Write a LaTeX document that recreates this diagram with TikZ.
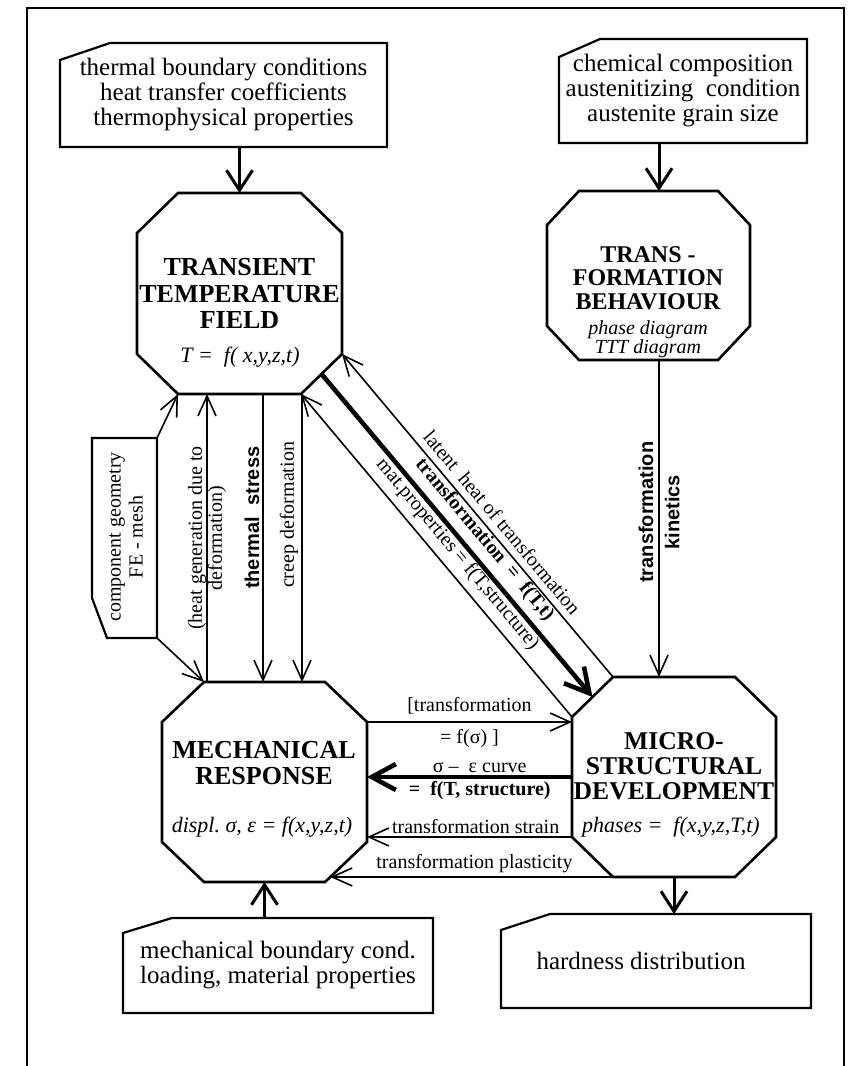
\documentclass[tikz,border=0pt]{standalone}
\usepackage{fontspec}
\setmainfont{Liberation Serif}
\setsansfont{Liberation Sans}
\usetikzlibrary{arrows.meta,calc}

% octagon round an empty node: node, corner cut in x, corner cut in y
\newcommand{\octframe}[3]{%
	\path ([xshift=#2]#1.north west) coordinate (#1v1)
		([xshift=-#2]#1.north east) coordinate (#1v2)
		([yshift=-#3]#1.north east) coordinate (#1v3)
		([yshift=#3]#1.south east) coordinate (#1v4)
		([xshift=-#2]#1.south east) coordinate (#1v5)
		([xshift=#2]#1.south west) coordinate (#1v6)
		([yshift=#3]#1.south west) coordinate (#1v7)
		([yshift=-#3]#1.north west) coordinate (#1v8);%
	\draw[octline] (#1v1) -- (#1v2) -- (#1v3) -- (#1v4) -- (#1v5) -- (#1v6) -- (#1v7) -- (#1v8) -- cycle;%
}
% data card, upper left corner cut off
\newcommand{\cardframe}[3]{%
	\draw[boxline] ([yshift=-#3]#1.north west) -- ([xshift=#2]#1.north west) -- (#1.north east) -- (#1.south east) -- (#1.south west) -- cycle;%
}

\begin{document}
\begin{tikzpicture}[x=0.5pt,y=-0.5pt,
	block/.style={inner sep=0pt,outer sep=0pt},
	boxtxt/.style={align=center,font=\fontsize{12.5}{12.5}\selectfont},
	headline/.style={align=center,font=\bfseries\fontsize{13}{13.25}\selectfont},
	eqn/.style={font=\itshape\fontsize{11}{11}\selectfont},
	lbl/.style={font=\fontsize{10}{10}\selectfont},
	lblbf/.style={font=\bfseries\fontsize{10}{10}\selectfont},
	lblsf/.style={font=\sffamily\bfseries\fontsize{10}{10}\selectfont},
	frame/.style={line width=0.9pt},
	octline/.style={line width=1.3pt},
	boxline/.style={line width=1.1pt},
	linkto/.style={line width=0.8pt,-{Straight Barb[length=10pt,width=9pt]}},
	linkfrom/.style={line width=0.8pt,{Straight Barb[length=10pt,width=9pt]}-},
	input/.style={line width=1.5pt,-{Straight Barb[length=10pt,width=13pt]}},
	heavy/.style={line width=2.3pt,-{Straight Barb[length=12pt,width=13pt]}}]

	\useasboundingbox (0,0) rectangle (851,1066);
	\draw[frame] (27,1066) |- (844,8) -- (844,1066);

	% data cards
	\node[block,boxtxt,minimum width=163.5pt,minimum height=52pt] (thermbc) at (223.5,95) {thermal boundary conditions\\heat transfer coefficients\\thermophysical properties};
	\node[block,boxtxt,minimum width=124pt,minimum height=52pt] (chembc) at (683,91) {chemical composition\\austenitizing\ \ condition\\austenite grain size};
	\node[block,boxtxt,minimum width=155pt,minimum height=47.5pt] (mechbc) at (278,965.5) {mechanical boundary cond.\\loading, material properties};
	\node[block,boxtxt,minimum width=155pt,minimum height=47pt] (hard) at (656,961) {hardness distribution\hspace*{15pt}};
	\node[block,minimum width=32.5pt,minimum height=100pt] (geom) at (124.5,538) {};
	\node[lbl,rotate=90,align=center,font=\fontsize{10}{11}\selectfont] (geomtxt) at (126,537) {component geometry\\FE - mesh};

	% octagons
	\node[block,minimum width=102.5pt,minimum height=100.5pt] (ttf) at (239.5,293.5) {};
	\node[block,minimum width=101.5pt,minimum height=84.5pt] (tb) at (648.5,275.5) {};
	\node[block,minimum width=102.5pt,minimum height=100pt] (mr) at (264.5,782) {};
	\node[block,minimum width=102pt,minimum height=100pt] (msd) at (674,777) {};

	\node[headline] (ttftitle) at (ttf) {TRANSIENT\\TEMPERATURE\\FIELD};
	\node[eqn] (ttfeq) at (240,357) {T =\ \ f( x,y,z,t)};
	\node[headline,font=\bfseries\fontsize{12}{11.75}\selectfont] (tbtitle) at (648,278) {TRANS -\\FORMATION\\BEHAVIOUR};
	\node[eqn,align=center,font=\itshape\fontsize{10}{9.5}\selectfont] (tbeq) at (648,339) {phase diagram\\TTT diagram};
	\node[headline] (mrtitle) at (264,763) {MECHANICAL\\RESPONSE};
	\node[eqn] (mreq) at (262,827) {displ.\ σ, ε = f(x,y,z,t)};
	\node[headline,font=\bfseries\fontsize{12.8}{12.5}\selectfont] (msdtitle) at (674,766) {MICRO-\\STRUCTURAL\\DEVELOPMENT};
	\node[eqn] (msdeq) at (671,827) {phases =\ \ f(x,y,z,T,t)};

	\octframe{ttf}{20.5pt}{20pt}
	\octframe{tb}{16pt}{17pt}
	\octframe{mr}{21pt}{20pt}
	\octframe{msd}{20.5pt}{20pt}
	\cardframe{thermbc}{25pt}{8.5pt}
	\cardframe{chembc}{20.5pt}{9pt}
	\cardframe{mechbc}{24.5pt}{7.5pt}
	\cardframe{hard}{24.5pt}{8pt}
	\draw[boxline] (geom.north west) -- (geom.north east) -- (geom.south east) -- ([xshift=7.5pt]geom.south west) -- ([yshift=20pt]geom.south west) -- cycle;

	% connectors
	\coordinate (hx) at (207,0);
	\coordinate (sx) at (263,0);
	\coordinate (cx) at (302,0);
	\coordinate (kx) at (659,0);

	\draw[input] (thermbc.south -| ttf.north) -- (ttf.north);
	\draw[input] (chembc.south -| kx) -- (tb.north -| kx);
	\draw[input] (mechbc.north -| mr.south) -- (mr.south);
	\draw[input] (msd.south) -- (msd.south |- hard.north);

	\draw[linkto] (geom.north east) -- (ttfv6);
	\draw[linkto] (geom.south east) -- (mrv1);
	\draw[linkto] (mr.north -| hx) -- node[lbl,rotate=90,align=center] {(heat generation due to\\deformation)} (ttf.south -| hx);
	\draw[linkto] (ttf.south -| sx) -- node[pos=.43,lblsf,rotate=90,above,inner sep=1.5pt] {thermal\ \ stress} (mr.north -| sx);
	\draw[linkto] (ttf.south -| cx) -- node[pos=.42,lbl,rotate=90,above,inner sep=1.5pt] {creep deformation} (mr.north -| cx);

	\draw[linkfrom] (ttfv4) -- node[pos=.55,lbl,sloped,above] {latent\ \ heat of transformation} (msdv1);
	\draw[heavy] ($(ttfv4)!.5!(ttfv5)$) -- node[pos=.55,lblbf,sloped,above] {transformation\ \ =\ \ f(T,t)} ($(msdv8)!.5!(msdv1)$);
	\draw[linkfrom] (ttfv5) -- node[pos=.53,lbl,sloped,above] {mat.properties = f(T,structure)} (msdv8);

	\draw[linkto] (tb.south -| kx) -- node[pos=.48,lblsf,rotate=90,above,inner sep=2.5pt] {transformation} node[pos=.48,lblsf,rotate=90,below,inner sep=2.5pt] {kinetics} (msd.north -| kx);

	\draw[linkto] (mrv3) -- node[lbl,above] {[transformation} node[lbl,below] {= f(σ) ]} (mrv3 -| msdv8);
	\draw[heavy] (msd.west) -- node[pos=.45,lbl,above,inner sep=1pt] {σ –\ \ ε curve} node[pos=.45,lblbf,below,inner sep=1pt] {=\ \ f(T,\ structure)} (msd.west -| mr.east);
	\draw[linkto] (msdv7) -- node[pos=.47,lbl,above,inner sep=1.5pt] {transformation strain} (msdv7 -| mr.east);
	\draw[linkto] (msdv6) -- node[pos=.49,lbl,above,inner sep=1.5pt] {transformation plasticity} (intersection of mrv4--mrv5 and msdv6--msdv5);
\end{tikzpicture}
\end{document}
